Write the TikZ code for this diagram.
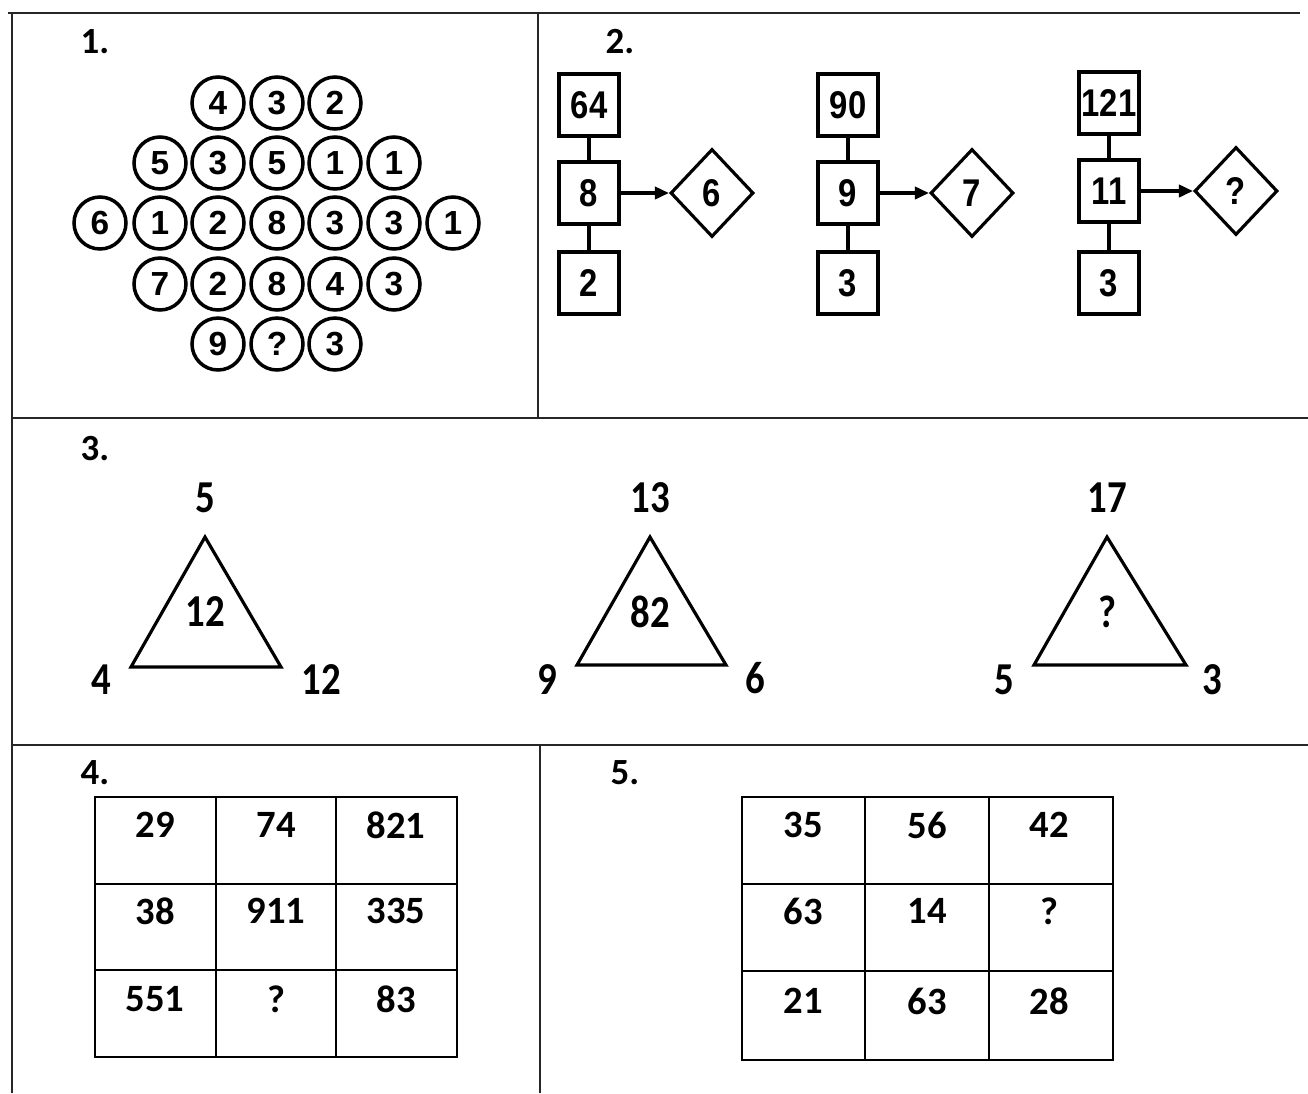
\documentclass[tikz,border=0pt]{standalone}
\usepackage{fontspec}
\setmainfont{Liberation Sans}
\newfontfamily\carl{Carlito}
\newfontfamily\carlnarrow{Carlito}[FakeStretch=0.85]
\newfontfamily\sansnarrow{Liberation Sans}[FakeStretch=0.85]
\usetikzlibrary{shapes.geometric,arrows.meta}
\tikzset{
  frame/.style={line width=1.5pt, black!85},
  num/.style={circle, draw, line width=2pt, minimum size=1.04cm, inner sep=0pt, font=\fontsize{19}{19}\selectfont\bfseries},
  bx/.style={draw, line width=1.8pt, minimum width=1.2cm, minimum height=1.24cm, inner sep=0pt, font=\fontsize{22}{22}\selectfont\sansnarrow\bfseries},
  dia/.style={diamond, draw, line width=1.8pt, minimum width=1.66cm, minimum height=1.76cm, inner sep=0pt, font=\fontsize{22}{22}\selectfont\sansnarrow\bfseries},
  link/.style={line width=1.8pt},
  arr/.style={line width=1.8pt, -{Triangle[length=8pt,width=7pt]}},
  plab/.style={font=\fontsize{21}{21}\selectfont\carl\bfseries},
  tri/.style={line width=1.8pt, line join=miter},
  tlab/.style={font=\fontsize{26}{26}\selectfont\carlnarrow\bfseries, inner sep=0pt},
  cell/.style={font=\fontsize{22}{22}\selectfont\carl\bfseries, inner sep=0pt},
  grid/.style={line width=1.4pt}
}
\begin{document}
\begin{tikzpicture}[x=0.02cm,y=-0.02cm]
\useasboundingbox[fill=white] (0,0) rectangle (1308,1093);
% frames
\draw[frame] (8,13) -- (1300,13);
\draw[frame] (12,13) -- (12,1093);
\draw[frame] (538,13) -- (538,418);
\draw[frame] (12,418) -- (1308,418);
\draw[frame] (12,745) -- (1308,745);
\draw[frame] (540,745) -- (540,1093);
% panel labels
\node[plab] (l1) at (95,42) {1.};
\node[plab] (l2) at (620,42) {2.};
\node[plab] (l3) at (95,449) {3.};
\node[plab] (l4) at (95,773) {4.};
\node[plab] (l5) at (625,773) {5.};
% panel 1 circles
\node[num] (a1) at (218,103) {4};
\node[num] (a2) at (277,103) {3};
\node[num] (a3) at (335,103) {2};
\node[num] (b1) at (160,163) {5};
\node[num] (b2) at (218,163) {3};
\node[num] (b3) at (277,163) {5};
\node[num] (b4) at (335,163) {1};
\node[num] (b5) at (394,163) {1};
\node[num] (c1) at (100,223) {6};
\node[num] (c2) at (160,223) {1};
\node[num] (c3) at (218,223) {2};
\node[num] (c4) at (277,223) {8};
\node[num] (c5) at (335,223) {3};
\node[num] (c6) at (394,223) {3};
\node[num] (c7) at (453,223) {1};
\node[num] (d1) at (160,284) {7};
\node[num] (d2) at (218,284) {2};
\node[num] (d3) at (277,284) {8};
\node[num] (d4) at (335,284) {4};
\node[num] (d5) at (394,284) {3};
\node[num] (e1) at (218,344) {9};
\node[num] (e2) at (277,344) {?};
\node[num] (e3) at (335,344) {3};
% panel 2
\node[bx] (p1t) at (589,105) {64};
\node[bx] (p1m) at (589,193) {8};
\node[bx] (p1b) at (589,283) {2};
\node[dia] (p1d) at (712,193) {6};
\draw[link] (p1t) -- (p1m);
\draw[link] (p1m) -- (p1b);
\draw[arr] (p1m) -- (p1d);
\node[bx] (p2t) at (848,105) {90};
\node[bx] (p2m) at (848,193) {9};
\node[bx] (p2b) at (848,283) {3};
\node[dia] (p2d) at (972,193) {7};
\draw[link] (p2t) -- (p2m);
\draw[link] (p2m) -- (p2b);
\draw[arr] (p2m) -- (p2d);
\node[bx] (p3t) at (1109,103) {121};
\node[bx] (p3m) at (1109,191) {11};
\node[bx] (p3b) at (1109,283) {3};
\node[dia] (p3d) at (1236,191) {?};
\draw[link] (p3t) -- (p3m);
\draw[link] (p3m) -- (p3b);
\draw[arr] (p3m) -- (p3d);
% panel 3 triangles
\draw[tri] (205,537) -- (131,667) -- (281,667) -- cycle;
\node[tlab] (t1a) at (205,498) {5};
\node[tlab] (t1c) at (205,612) {12};
\node[tlab] (t1l) at (101,680) {4};
\node[tlab] (t1r) at (321,680) {12};
\draw[tri] (650,537) -- (577,665) -- (726,665) -- cycle;
\node[tlab] (t2a) at (650,498) {13};
\node[tlab] (t2c) at (650,612) {82};
\node[tlab] (t2l) at (547,680) {9};
\node[tlab] (t2r) at (755,678) {6};
\draw[tri] (1107,537) -- (1034,665) -- (1186,665) -- cycle;
\node[tlab] (t3a) at (1107,498) {17};
\node[tlab] (t3c) at (1107,612) {?};
\node[tlab] (t3l) at (1004,680) {5};
\node[tlab] (t3r) at (1212,680) {3};
% panel 4 table
\draw[grid] (95,797) rectangle (457,1057);
\draw[grid] (216,797) -- (216,1057);
\draw[grid] (336,797) -- (336,1057);
\draw[grid] (95,884) -- (457,884);
\draw[grid] (95,970) -- (457,970);
\node[cell] (g11) at (155,825) {29};
\node[cell] (g12) at (276,825) {74};
\node[cell] (g13) at (396,825) {821};
\node[cell] (g21) at (155,911) {38};
\node[cell] (g22) at (276,911) {911};
\node[cell] (g23) at (396,911) {335};
\node[cell] (g31) at (155,999) {551};
\node[cell] (g32) at (276,999) {?};
\node[cell] (g33) at (396,999) {83};
% panel 5 table
\draw[grid] (742,797) rectangle (1113,1060);
\draw[grid] (865,797) -- (865,1060);
\draw[grid] (989,797) -- (989,1060);
\draw[grid] (742,884) -- (1113,884);
\draw[grid] (742,971) -- (1113,971);
\node[cell] (h11) at (803,825) {35};
\node[cell] (h12) at (927,825) {56};
\node[cell] (h13) at (1049,825) {42};
\node[cell] (h21) at (803,911) {63};
\node[cell] (h22) at (927,911) {14};
\node[cell] (h23) at (1049,911) {?};
\node[cell] (h31) at (803,1001) {21};
\node[cell] (h32) at (927,1001) {63};
\node[cell] (h33) at (1049,1001) {28};
\end{tikzpicture}
\end{document}
